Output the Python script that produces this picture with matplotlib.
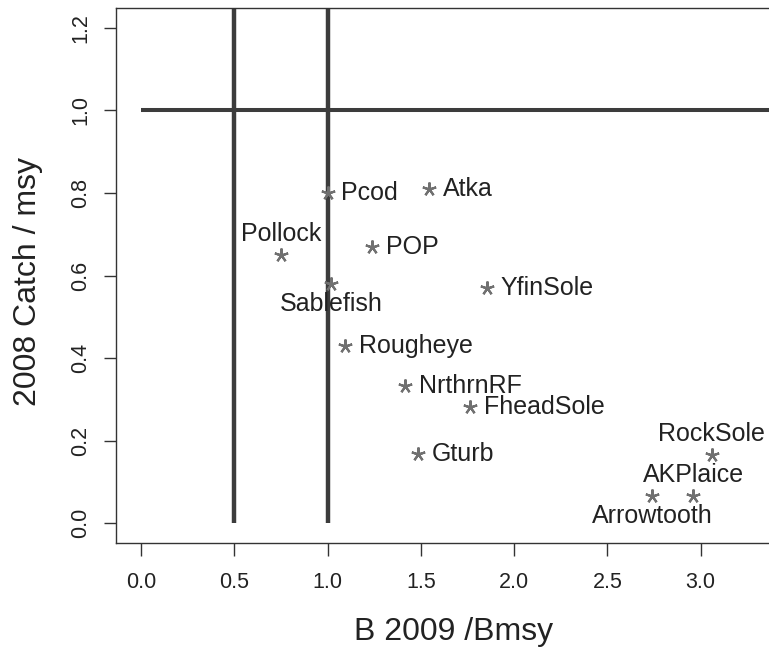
import matplotlib
matplotlib.use("Agg")
import matplotlib.pyplot as plt

# species, biomass ratio (B2009/Bmsy) and catch ratio (2008 catch/msy)
species = ["Pcod", "Atka", "Pollock", "POP", "Sablefish", "YfinSole", "Rougheye",
           "NrthrnRF", "FheadSole", "Gturb", "RockSole", "AKPlaice", "Arrowtooth"]
b_ratio = [1.00, 1.545, 0.75, 1.24, 1.02, 1.855, 1.095, 1.415, 1.764, 1.485, 3.06, 2.96, 2.74]
c_ratio = [0.80, 0.81, 0.65, 0.67, 0.58, 0.57, 0.43, 0.333, 0.282, 0.168, 0.165, 0.066, 0.066]
# where the label sits relative to the point (R style pos: 1 below, 3 above, 4 right)
label_pos = [4, 4, 3, 4, 1, 4, 4, 4, 4, 4, 3, 3, 1]

x_ticks = [0.0, 0.5, 1.0, 1.5, 2.0, 2.5, 3.0]
y_ticks = [0.0, 0.2, 0.4, 0.6, 0.8, 1.0, 1.2]

plt.rcParams["font.family"] = ["Liberation Sans", "DejaVu Sans"]

fig = plt.figure(figsize=(7.69, 6.52), dpi=100)
ax = fig.add_axes([116 / 769, 109 / 652, 675 / 769, 535 / 652])

line_col = "#3c3c3c"
ax.plot([0, 4], [1, 1], color=line_col, lw=2.9, solid_capstyle="butt", zorder=2)
ax.plot([0.5, 0.5], [0, 1.4], color=line_col, lw=3.2, solid_capstyle="butt", zorder=2)
ax.plot([1.0, 1.0], [0, 1.4], color=line_col, lw=3.2, solid_capstyle="butt", zorder=2)

# text-style asterisk, five arms
ax.plot(b_ratio, c_ratio, linestyle="none", marker=(5, 2, 0), markersize=10,
        markeredgewidth=1.6, color="#707070", zorder=3)

offsets = {1: ((0, -6), "center", "top"),
           3: ((0, 10), "center", "baseline"),
           4: ((10, 0), "left", "center")}
for name, x, y, p in zip(species, b_ratio, c_ratio, label_pos):
    off, ha, va = offsets[p]
    ax.annotate(name, (x, y), xytext=off, textcoords="offset points",
                ha=ha, va=va, fontsize=18, color="#222222", zorder=4)

ax.set_xlim(-0.134, 3.484)
ax.set_ylim(-0.048, 1.248)
ax.set_xticks(x_ticks)
ax.set_yticks(y_ticks)
ax.set_xticklabels([f"{v:.1f}" for v in x_ticks])
ax.set_yticklabels([f"{v:.1f}" for v in y_ticks], rotation=90, va="center")

ax.tick_params(axis="both", direction="out", length=9, width=1, color="#333333",
               labelsize=15.5, labelcolor="#222222")
ax.tick_params(axis="x", pad=12)
ax.tick_params(axis="y", pad=9)

for side in ["left", "bottom", "top", "right"]:
    ax.spines[side].set_color("#333333")
    ax.spines[side].set_linewidth(1.0)

ax.set_xlabel("B 2009 /Bmsy", fontsize=23, color="#222222")
ax.xaxis.label.set_va("baseline")
ax.xaxis.set_label_coords(0.5, -0.1813)
ax.set_ylabel("2008 Catch / msy", fontsize=23, color="#222222")
ax.yaxis.label.set_va("center")
ax.yaxis.set_label_coords(-0.1304, 0.4897)

fig.savefig("out.png", dpi=100)
